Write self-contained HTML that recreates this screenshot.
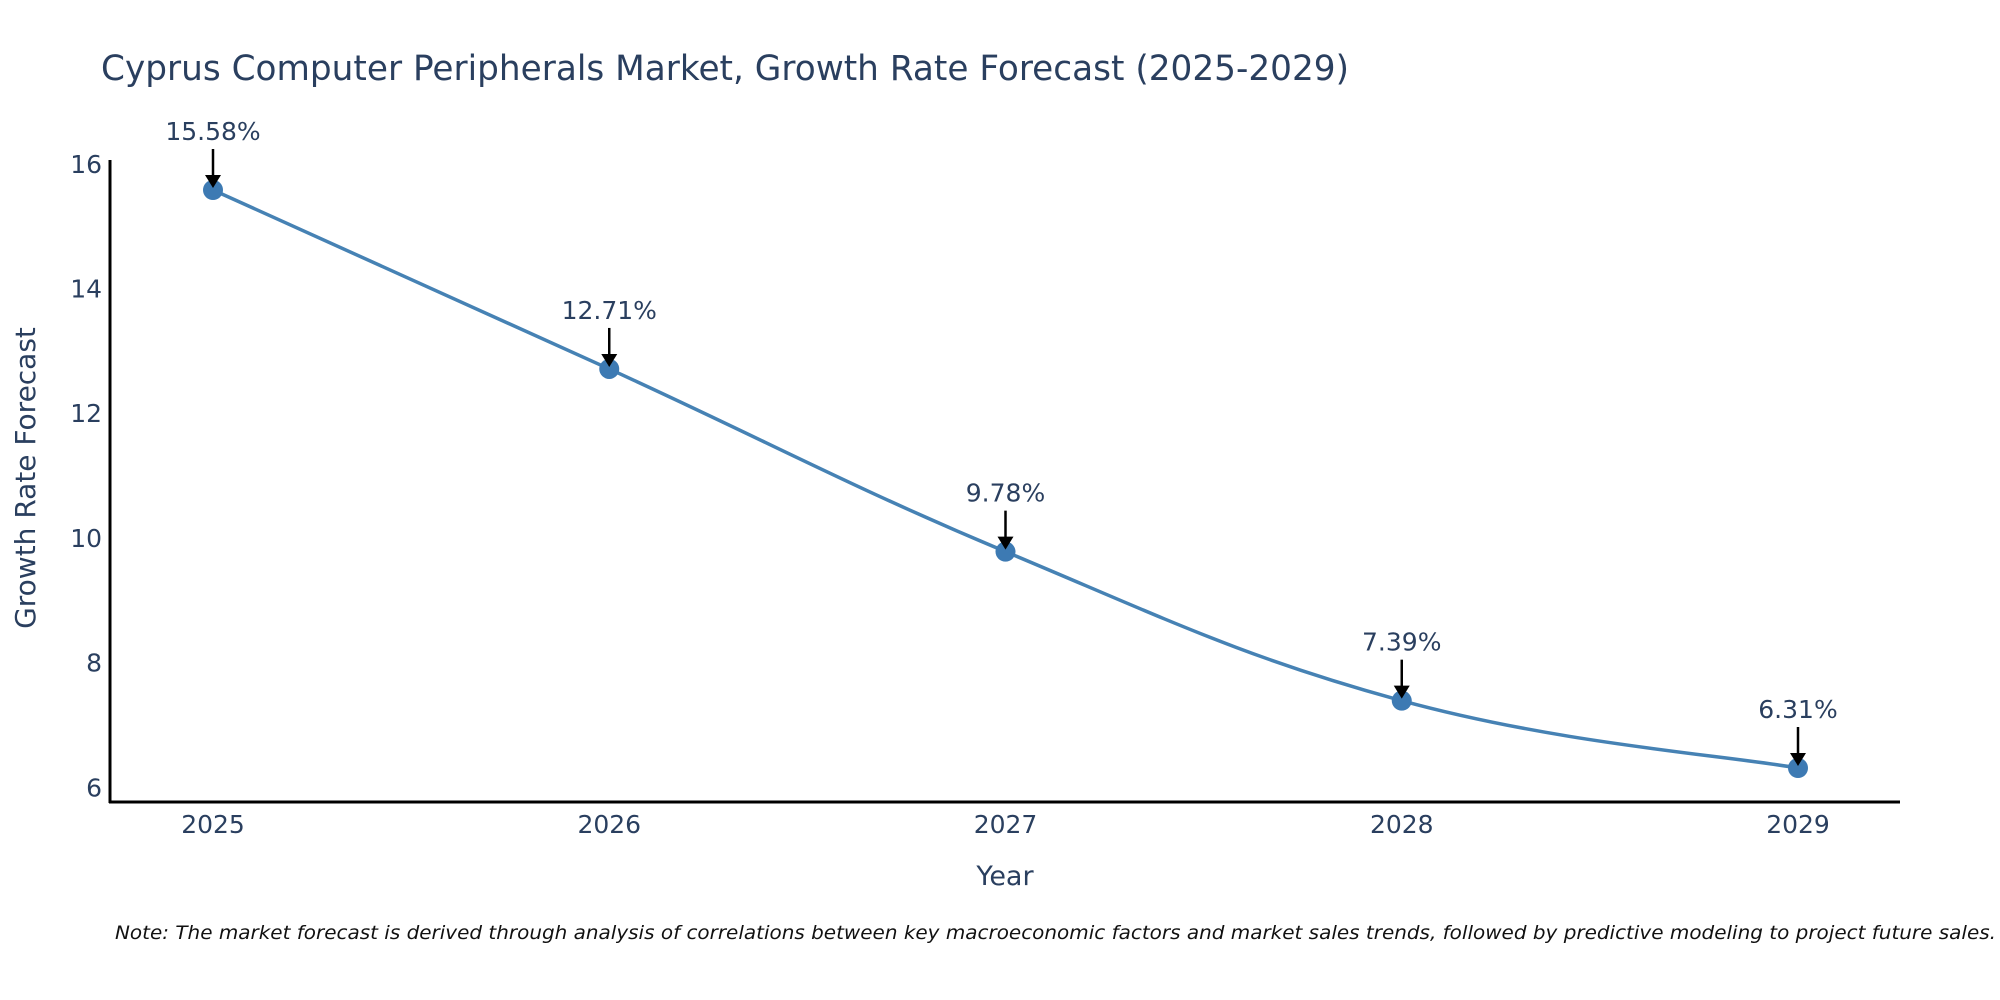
<!DOCTYPE html>
<html><head><meta charset="utf-8"><style>
html,body{margin:0;padding:0;background:#fff;}
svg{display:block;font-family:"DejaVu Sans","Liberation Sans",sans-serif;}
</style></head><body>
<svg id="chart" width="2000" height="1000" viewBox="0 0 2000 1000">
<text x="101" y="80" font-size="35" fill="#2a3f5f" textLength="1248" lengthAdjust="spacingAndGlyphs">Cyprus Computer Peripherals Market, Growth Rate Forecast (2025-2029)</text>
<g id="yticks"></g>
<g id="xticks"></g>
<path id="line" fill="none" stroke="#4682b4" stroke-width="3.5"/>
<g id="points"></g>
<g id="annots"></g>
<line x1="110" y1="160" x2="110" y2="803" stroke="#000" stroke-width="3"/>
<line x1="109" y1="802" x2="1900" y2="802" stroke="#000" stroke-width="3"/>
<text x="1005" y="885" font-size="27" fill="#2a3f5f" text-anchor="middle">Year</text>
<text transform="translate(35,478) rotate(-90)" font-size="28" fill="#2a3f5f" text-anchor="middle">Growth Rate Forecast</text>
<text x="115" y="939" font-size="19" font-style="italic" fill="#111" textLength="1881" lengthAdjust="spacingAndGlyphs">Note: The market forecast is derived through analysis of correlations between key macroeconomic factors and market sales trends, followed by predictive modeling to project future sales.</text>
</svg>
<script>
const years = [2025, 2026, 2027, 2028, 2029];
const growth = [15.58, 12.71, 9.78, 7.39, 6.31];
const labels = ["15.58%", "12.71%", "9.78%", "7.39%", "6.31%"];
const yTicks = [6, 8, 10, 12, 14, 16];

const NS = "http://www.w3.org/2000/svg";
const xScale = v => 213 + (v - 2025) * (1798 - 213) / 4;
const yScale = v => 768 - (v - 6.31) * (768 - 190) / (15.58 - 6.31);
function mk(tag, attrs, parent) {
  const e = document.createElementNS(NS, tag);
  for (const k in attrs) e.setAttribute(k, attrs[k]);
  parent.appendChild(e);
  return e;
}
const yt = document.getElementById('yticks');
yTicks.forEach(t => {
  const e = mk('text', {x: 102, y: yScale(t) + 9, 'font-size': 25, fill: '#2a3f5f', 'text-anchor': 'end'}, yt);
  
  
  e.textContent = t;
});
const xt = document.getElementById('xticks');
years.forEach(y => {
  const e = mk('text', {x: xScale(y), y: 833, 'font-size': 25, fill: '#2a3f5f', 'text-anchor': 'middle'}, xt);
  
  
  e.textContent = y;
});
const pts = years.map((y, i) => [xScale(y), yScale(growth[i])]);
let d = `M${pts[0][0]},${pts[0][1]}`;
const s = 0.2;
for (let i = 0; i < pts.length - 1; i++) {
  const p0 = pts[Math.max(0, i - 1)], p1 = pts[i], p2 = pts[i + 1], p3 = pts[Math.min(pts.length - 1, i + 2)];
  const c1 = [p1[0] + (p2[0] - p0[0]) * s, p1[1] + (p2[1] - p0[1]) * s];
  const c2 = [p2[0] - (p3[0] - p1[0]) * s, p2[1] - (p3[1] - p1[1]) * s];
  d += ` C${c1[0]},${c1[1]} ${c2[0]},${c2[1]} ${p2[0]},${p2[1]}`;
}
document.getElementById('line').setAttribute('d', d);
const pg = document.getElementById('points');
const ag = document.getElementById('annots');
pts.forEach((p, i) => {
  const c = mk('circle', {cx: p[0], cy: p[1], r: 10, fill: '#3d7ab3'}, pg);
  
  
  const l = mk('line', {x1: p[0], y1: p[1] - 41, x2: p[0], y2: p[1] - 12, stroke: '#000', 'stroke-width': 2.5}, ag);
  
  
  const h = mk('polygon', {points: `${p[0]-8},${p[1]-15} ${p[0]+8},${p[1]-15} ${p[0]},${p[1]-2}`, fill: '#000'}, ag);
  
  
  const t = mk('text', {x: p[0], y: p[1] - 50, 'font-size': 25, fill: '#2a3f5f', 'text-anchor': 'middle'}, ag);
  
  
  t.textContent = labels[i];
});
</script>
</body></html>
